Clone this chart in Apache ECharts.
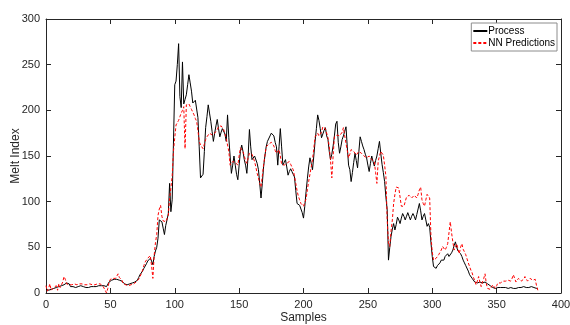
<!DOCTYPE html>
<html>
<head>
<meta charset="utf-8">
<script src="https://cdn.jsdelivr.net/npm/echarts@6/dist/echarts.min.js"></script>
<style>
  html, body { margin: 0; padding: 0; background: #fff; }
  #main { width: 570px; height: 325px; }
</style>
</head>
<body>
<div id="main"></div>
<script>
// melt index, measured process vs network output, one value per sample (0..382)
var processVals = [
  4,4,3,4,4,5,5,5,6,6, 7,7,8,8,9,10,11,11,10,7,
  6,7,7,6,7,7,7,8,7,7, 6,6,7,6,6,7,6,7,7,7,
  8,8,7,8,9,8,7,7,7,12, 13,14,14,15,15,15,14,14,14,13,
  12,10,10,9,10,10,10,11,12,12, 12,14,17,20,22,24,27,29,32,35,
  37,38,35,31,40,46,50,60,80,79, 78,71,64,74,80,87,120,89,102,102,
  228,232,250,273,215,203,253,207,212,217, 228,239,230,221,208,210,211,212,192,160,
  126,128,130,155,181,193,206,197,188,177, 166,175,183,190,180,171,176,180,182,174,
  166,195,170,150,131,140,150,140,130,124, 140,155,162,155,146,140,131,150,179,160,
  146,148,150,150,142,135,120,104,120,138, 150,160,166,168,172,175,177,172,165,160,
  140,160,180,160,140,143,146,138,129,133, 136,133,130,127,112,98,97,96,94,88,
  82,95,111,125,138,148,142,135,150,166, 180,195,189,180,170,168,178,181,172,168,
  155,146,152,161,172,185,188,165,153,160, 168,172,177,182,160,140,135,122,132,143,
  153,145,137,155,171,166,161,157,152,148, 140,133,142,150,144,139,145,150,158,166,
  153,141,132,122,105,91,36,50,62,70, 76,69,75,83,80,76,82,87,84,80,
  84,88,84,80,84,87,84,80,86,92, 98,90,80,84,87,80,73,76,72,55,
  40,29,28,27,30,31,33,36,38,36, 40,41,43,40,40,44,47,52,56,50,
  46,44,43,40,36,33,30,28,24,20, 18,16,14,12,11,11,11,12,12,11,
  11,12,11,10,9,8,7,6,5,5, 5,6,7,6,6,6,6,6,6,5,
  6,6,6,5,5,5,6,6,5,6, 6,7,6,6,5,6,6,7,7,6,
  6,5,5
];

var predictionVals = [
  8,2,5,10,3,1,6,4,8,3, 10,6,5,12,18,15,10,10,9,9,
  9,10,10,9,9,10,10,9,10,10, 9,10,9,9,10,8,9,10,9,9,
  10,9,10,9,8,6,3,0,5,12, 15,14,16,17,16,18,21,17,16,14,
  10,8,9,9,8,10,9,9,10,11, 12,13,15,18,21,25,30,34,36,38,
  40,41,30,16,41,55,64,85,92,96, 84,79,78,78,80,85,103,115,128,155,
  170,184,186,189,193,197,200,204,158,206, 208,207,204,201,199,195,191,188,178,166,
  162,160,158,163,168,171,173,175,174,173, 173,175,177,179,182,184,183,181,179,174,
  169,162,155,140,142,144,146,143,141,140, 150,159,157,155,150,145,142,148,153,153,
  152,148,144,138,131,126,120,116,128,140, 150,160,161,163,164,165,166,161,156,153,
  155,157,150,141,140,140,140,142,143,144, 141,138,135,128,120,112,106,102,98,96,
  95,94,103,113,122,130,138,146,158,171, 173,175,172,171,176,182,181,180,179,170,
  160,145,126,150,171,172,173,173,172,171, 176,181,172,164,156,148,152,157,156,155,
  153,151,153,155,154,153,151,150,149,148, 149,150,148,146,145,144,132,120,144,150,
  155,153,151,140,128,80,55,51,68,80, 98,108,116,116,115,105,95,95,95,100,
  105,106,107,105,104,106,107,105,104,108, 113,116,102,98,95,102,108,106,104,62,
  45,36,37,38,40,42,43,47,51,49, 47,50,54,66,78,66,56,47,50,54,
  48,43,50,54,48,45,42,40,33,29, 25,22,17,14,9,13,18,12,7,12,
  16,21,10,5,4,4,6,9,7,5, 8,11,12,11,12,13,12,13,11,14,
  12,13,16,20,18,12,13,16,14,13, 12,15,18,16,13,14,16,18,14,12,
  15,8,3
];

var seriesNames = ['Process', 'NN Predictions'];
var xTicks = [0, 50, 100, 150, 200, 250, 300, 350, 400];
var yTicks = [0, 50, 100, 150, 200, 250, 300];

var chart = echarts.init(document.getElementById('main'), null, { renderer: 'canvas' });

var font = 'Liberation Sans, Arial, Helvetica, sans-serif';
var axisColor = '#262626';

function toPoints(vals) {
  return vals.map(function (v, i) { return [i, v]; });
}

// main axis + mirrored axis to close the box, matlab style
function xAxisDef(pos, showLabels) {
  return {
    type: 'value',
    position: pos,
    min: xTicks[0],
    max: xTicks[xTicks.length - 1],
    interval: xTicks[1] - xTicks[0],
    name: showLabels ? 'Samples' : '',
    nameLocation: 'middle',
    nameGap: 19,
    nameMoveOverlap: false,
    nameTextStyle: { fontFamily: font, fontSize: 12, color: axisColor },
    axisLine: { show: true, onZero: false, lineStyle: { color: axisColor, width: 1 } },
    axisTick: { show: true, inside: true, length: 5, lineStyle: { color: axisColor } },
    axisLabel: { show: showLabels, fontFamily: font, fontSize: 11, color: axisColor, margin: 6 },
    splitLine: { show: false }
  };
}

function yAxisDef(pos, showLabels) {
  return {
    type: 'value',
    position: pos,
    min: yTicks[0],
    max: yTicks[yTicks.length - 1],
    interval: yTicks[1] - yTicks[0],
    name: showLabels ? 'Melt Index' : '',
    nameLocation: 'middle',
    nameGap: 24,
    nameMoveOverlap: false,
    nameTextStyle: { fontFamily: font, fontSize: 12, color: axisColor },
    axisLine: { show: true, onZero: false, lineStyle: { color: axisColor, width: 1 } },
    axisTick: { show: true, inside: true, length: 5, lineStyle: { color: axisColor } },
    axisLabel: { show: showLabels, fontFamily: font, fontSize: 11, color: axisColor, margin: 6 },
    splitLine: { show: false }
  };
}

var option = {
  backgroundColor: '#fff',
  animation: false,
  grid: { left: 46, right: 9, top: 19, bottom: 32, containLabel: false, outerBoundsMode: 'none' },
  legend: {
    data: seriesNames,
    orient: 'vertical',
    right: 13,
    top: 23,
    itemGap: 2,
    itemWidth: 14,
    itemHeight: 10,
    padding: [3, 2, 3, 1],
    backgroundColor: '#fff',
    borderColor: '#8c8c8c',
    borderWidth: 1,
    borderRadius: 0,
    itemStyle: { opacity: 0 },
    textStyle: { fontFamily: font, fontSize: 10, color: '#000', padding: [0, 0, 0, -4] }
  },
  xAxis: [xAxisDef('bottom', true), xAxisDef('top', false)],
  yAxis: [yAxisDef('left', true), yAxisDef('right', false)],
  series: [
    {
      name: seriesNames[0],
      type: 'line',
      xAxisIndex: 0,
      yAxisIndex: 0,
      data: toPoints(processVals),
      showSymbol: false,
      symbol: 'none',
      lineStyle: { color: '#000', width: 1 },
      itemStyle: { color: '#000' },
      z: 2
    },
    {
      name: seriesNames[1],
      type: 'line',
      xAxisIndex: 0,
      yAxisIndex: 0,
      data: toPoints(predictionVals),
      showSymbol: false,
      symbol: 'none',
      lineStyle: { color: '#ff0000', width: 1, type: [3, 2] },
      itemStyle: { color: '#ff0000' },
      z: 3
    }
  ]
};

chart.setOption(option);
</script>
</body>
</html>
